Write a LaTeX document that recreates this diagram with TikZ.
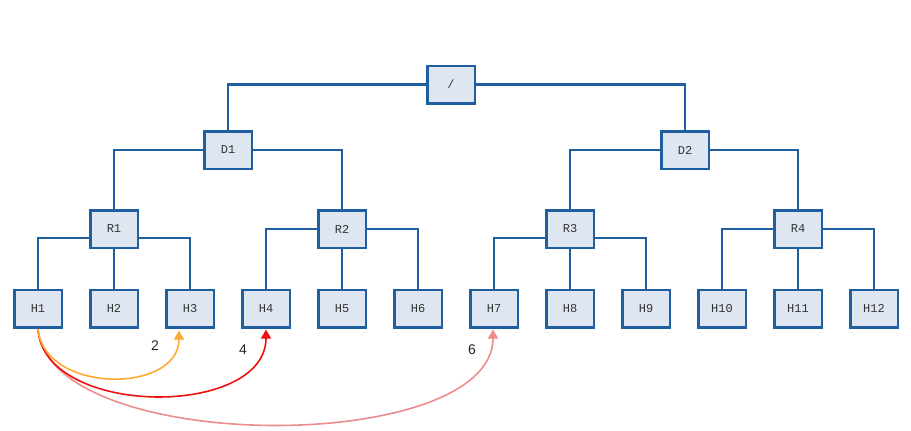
\documentclass[tikz,border=0pt]{standalone}
\usepackage{fontspec}
\setmainfont{Liberation Sans}
\newfontfamily\boxfont{Liberation Mono}
\usetikzlibrary{arrows.meta}
\definecolor{boxfill}{HTML}{DEE6F1}
\definecolor{boxline}{HTML}{1F5FA0}
\definecolor{arrA}{HTML}{FFAA33}
\definecolor{arrB}{HTML}{F01010}
\definecolor{arrC}{HTML}{EC8C8C}
\tikzset{
  hbox/.style={draw=boxline, fill=boxfill, line width=2.5pt, minimum width=47.5pt, minimum height=37.5pt, inner sep=0pt, font=\boxfont\fontsize{12}{14}\selectfont, text=black!80},
  conn/.style={draw=boxline, line width=2.5pt},
  hop/.style={line width=1.6pt, -{Triangle[width=10pt,length=9pt]}},
  hoplbl/.style={font=\fontsize{14}{16}\selectfont, text=black!85}
}
\begin{document}
\begin{tikzpicture}[x=1pt,y=-1pt]
\useasboundingbox (0,0) rectangle (911,431);
\node[hbox] (root) at (451,84.5) {/};
\node[hbox] (D1) at (228,150) {D1};
\node[hbox] (D2) at (685,150) {D2};
\node[hbox] (R1) at (114,229) {R1};
\node[hbox] (R2) at (342,229) {R2};
\node[hbox] (R3) at (570,229) {R3};
\node[hbox] (R4) at (798,229) {R4};
\foreach \i in {1,...,12} {
  \node[hbox] (H\i) at ({38+76*(\i-1)},308.5) {H\i};
}
% tree connectors
\draw[conn] (root.west) -| (D1.north);
\draw[conn] (root.east) -| (D2.north);
\draw[conn] (D1.west) -| (R1.north);
\draw[conn] (D1.east) -| (R2.north);
\draw[conn] (D2.west) -| (R3.north);
\draw[conn] (D2.east) -| (R4.north);
\draw[conn] ([yshift=-9pt]R1.west) -| (H1.north);
\draw[conn] (R1.south) -- (H2.north);
\draw[conn] ([yshift=-9pt]R1.east) -| (H3.north);
\draw[conn] (R2.west) -| (H4.north);
\draw[conn] (R2.south) -- (H5.north);
\draw[conn] (R2.east) -| (H6.north);
\draw[conn] ([yshift=-9pt]R3.west) -| (H7.north);
\draw[conn] (R3.south) -- (H8.north);
\draw[conn] ([yshift=-9pt]R3.east) -| (H9.north);
\draw[conn] (R4.west) -| (H10.north);
\draw[conn] (R4.south) -- (H11.north);
\draw[conn] (R4.east) -| (H12.north);
% hop arrows
\coordinate (s) at ([yshift=-1pt]H1.south);
\coordinate (t3) at ([xshift=-11pt,yshift=-2pt]H3.south);
\coordinate (t4) at ([yshift=-1pt]H4.south);
\coordinate (t7) at ([xshift=-1pt,yshift=-1pt]H7.south);
\draw[hop, arrC] (s) .. controls (50,456) and (493,456) .. (t7);
\draw[hop, arrB] (s) .. controls (45,418) and (266,418) .. (t4);
\draw[hop, arrA] (s) .. controls (45,394) and (179,394) .. (t3);
\node[hoplbl] (l2) at (155,346) {2};
\node[hoplbl] (l4) at (243,350) {4};
\node[hoplbl] (l6) at (472,350) {6};
\end{tikzpicture}
\end{document}
